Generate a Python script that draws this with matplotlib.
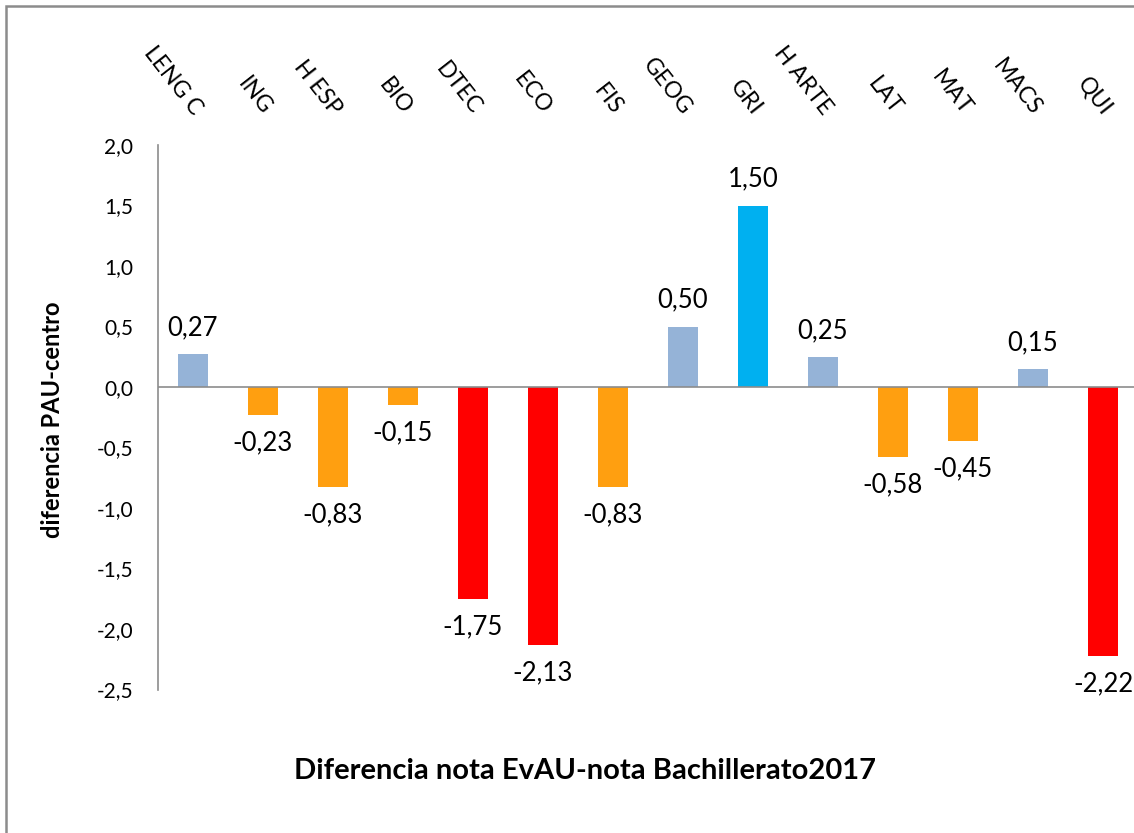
import matplotlib
matplotlib.use("Agg")
import matplotlib.pyplot as plt
from matplotlib.patches import Rectangle
from matplotlib.transforms import blended_transform_factory

categories = ["LENG C", "ING", "H ESP", "BIO", "DTEC", "ECO", "FIS", "GEOG",
              "GRI", "H ARTE", "LAT", "MAT", "MACS", "QUI"]
values = [0.27, -0.23, -0.83, -0.15, -1.75, -2.13, -0.83, 0.50,
          1.50, 0.25, -0.58, -0.45, 0.15, -2.22]
yticks = [2.0, 1.5, 1.0, 0.5, 0.0, -0.5, -1.0, -1.5, -2.0, -2.5]

BLUE = "#95B3D7"
ORANGE = "#FF9F10"
RED = "#FF0000"
CYAN = "#00B0F0"
colors = [BLUE, ORANGE, ORANGE, ORANGE, RED, RED, ORANGE, BLUE,
          CYAN, BLUE, ORANGE, ORANGE, BLUE, RED]

plt.rcParams['font.family'] = ['Lato', 'DejaVu Sans']

W, H = 1134, 833
fig = plt.figure(figsize=(W / 100, H / 100), dpi=100)

# outer chart border (partially cut off on right/bottom)
fig.patches.append(Rectangle((6 / W, -0.1), 1.2, (H - 6) / H + 0.1,
                             transform=fig.transFigure, fill=False,
                             edgecolor="#8C8C8C", linewidth=1.8))

left, right = 158, 1138
top, bottom = 145, 689.5
ax = fig.add_axes([left / W, (H - bottom) / H, (right - left) / W, (bottom - top) / H])

x = list(range(len(categories)))
ax.bar(x, values, width=0.43, color=colors, zorder=2)
ax.set_xlim(-0.5, len(categories) - 0.5)
ax.set_ylim(-2.5, 2.0)

for s in ["top", "right", "bottom"]:
    ax.spines[s].set_visible(False)
ax.spines["left"].set_color("#8C8C8C")
ax.spines["left"].set_linewidth(1.2)
ax.axhline(0, color="#8C8C8C", linewidth=1.2, zorder=3)

ax.set_xticks([])
ax.set_yticks(yticks)
ax.set_yticklabels([f"{t:.1f}".replace(".", ",") for t in yticks], fontsize=15)
ax.tick_params(axis="y", length=0, pad=18)

for xi, v in zip(x, values):
    lab = f"{v:.2f}".replace(".", ",")
    if v >= 0:
        ax.annotate(lab, (xi, v), xytext=(0, 10), textcoords="offset points",
                    ha="center", va="bottom", fontsize=18.5)
    else:
        ax.annotate(lab, (xi, v), xytext=(0, -11), textcoords="offset points",
                    ha="center", va="top", fontsize=18.5)

trans = blended_transform_factory(ax.transData, ax.transAxes)
for xi, c in zip(x, categories):
    ax.text(xi + 0.06, 1.06, c, transform=trans, rotation=-52,
            rotation_mode="anchor", ha="right", va="center", fontsize=16.5)

fig.text(53 / W, 1 - 420 / H, "diferencia PAU-centro", rotation=90,
         ha="center", va="center", fontsize=17, fontweight="bold")
fig.text(585 / W, 1 - 771 / H, "Diferencia nota EvAU-nota Bachillerato2017",
         ha="center", va="center", fontsize=21, fontweight="bold")

fig.savefig("out.png", dpi=100)
